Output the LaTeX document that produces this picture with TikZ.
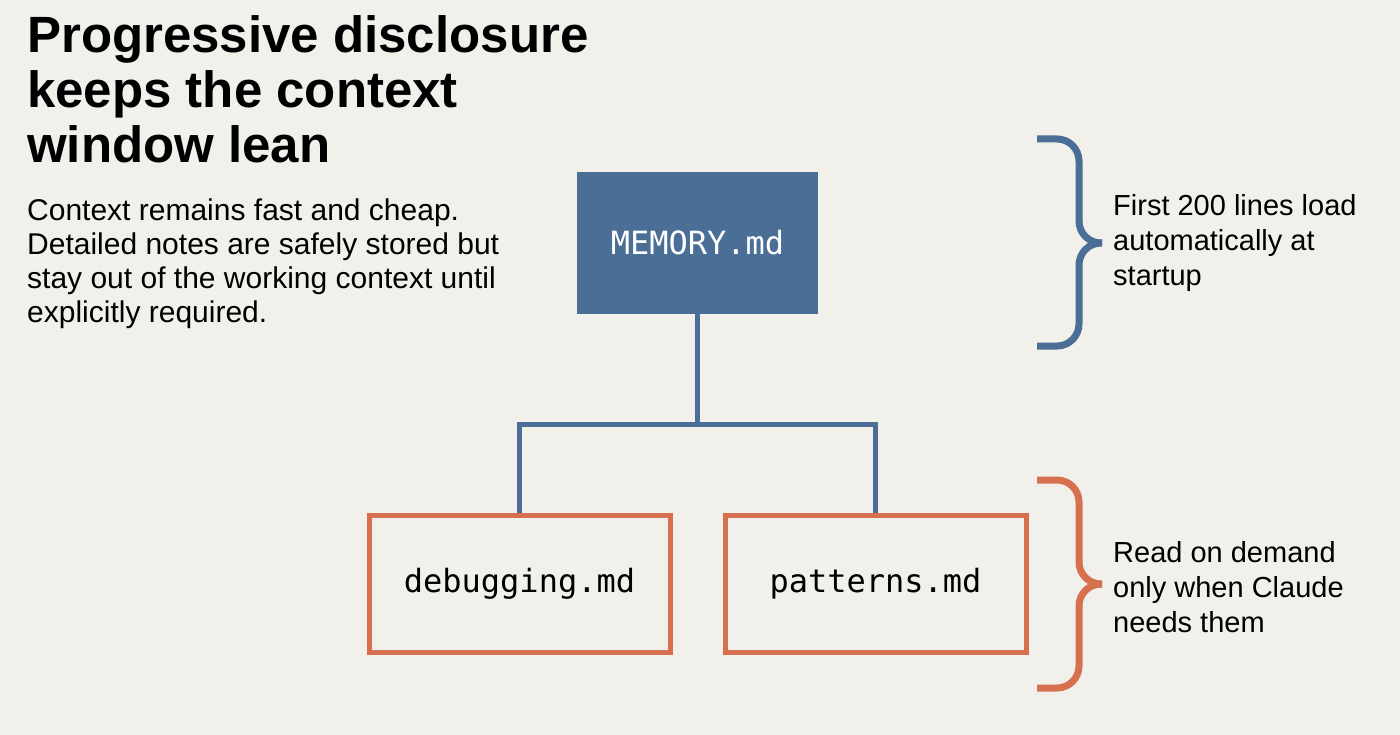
\documentclass[tikz,border=0pt]{standalone}
\usepackage{fontspec}
\setmainfont{Liberation Sans}
\setmonofont{DejaVu Sans Mono}
\definecolor{bg}{HTML}{F2F0EB}
\definecolor{bl}{HTML}{4A6E96}
\definecolor{orn}{HTML}{D6704F}
\begin{document}
\begin{tikzpicture}[x=1pt,y=-1pt,
  conn/.style={draw=bl,line width=5pt},
  fbox/.style={draw=orn,line width=5pt,minimum width=301pt,minimum height=137pt,font=\ttfamily\fontsize{32}{36}\selectfont},
  br/.style={line width=7pt,rounded corners=22pt},
  lbl/.style={anchor=north west,align=left,font=\fontsize{29}{35}\selectfont,inner sep=0pt}]
\fill[bg] (0,0) rectangle (1400,735);
\useasboundingbox (0,0) rectangle (1400,735);
\node[anchor=north west,align=left,inner sep=0pt,font=\bfseries\fontsize{51}{55}\selectfont] (title) at (27,15) {Progressive disclosure\\keeps the context\\window lean};
\node[anchor=north west,align=left,inner sep=0pt,font=\fontsize{30}{34}\selectfont] (body) at (27,199) {Context remains fast and cheap.\\Detailed notes are safely stored but\\stay out of the working context until\\explicitly required.};
\node[fill=bl,minimum width=241pt,minimum height=142pt,text=white,font=\ttfamily\fontsize{32}{36}\selectfont] (mem) at (697.5,243) {MEMORY.md};
\node[fbox] (dbg) at (519.5,583.5) {debugging.md};
\node[fbox] (pat) at (875.5,583.5) {patterns.md};
\coordinate (j) at (697.5,424);
\draw[conn] (mem.south) -- (j);
\draw[conn,line join=miter] (dbg.north -| 519.5,0) |- (j) -| (pat.north -| 875.5,0);
\draw[br,bl] (1037,139) -- (1079,139) -- (1079,243) -- (1102,243);
\draw[br,bl] (1037,346) -- (1079,346) -- (1079,243) -- (1102,243);
\draw[br,orn] (1037,480) -- (1079,480) -- (1079,584) -- (1102,584);
\draw[br,orn] (1037,688) -- (1079,688) -- (1079,584) -- (1102,584);
\node[lbl] (t1) at (1113,194) {First 200 lines load\\automatically at\\startup};
\node[lbl] (t2) at (1113,541) {Read on demand\\only when Claude\\needs them};
\end{tikzpicture}
\end{document}
